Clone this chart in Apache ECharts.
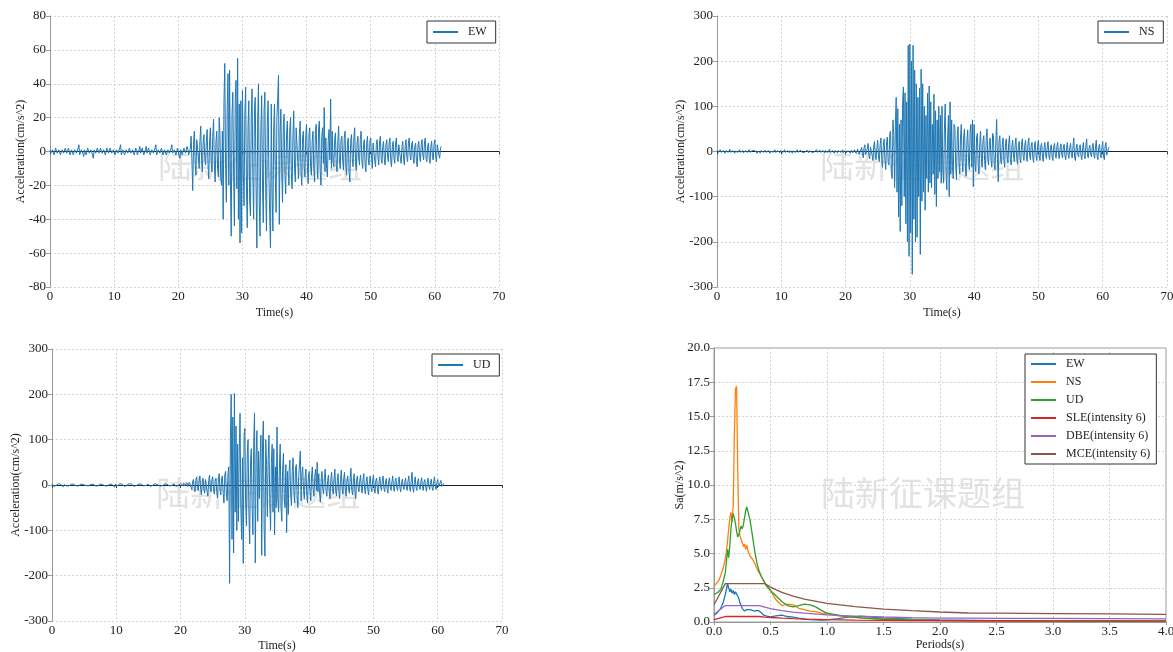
<!DOCTYPE html>
<html>
<head>
<meta charset="utf-8">
<script src="https://cdn.jsdelivr.net/npm/echarts@6/dist/echarts.min.js"></script>
<style>html,body{margin:0;padding:0;background:#fff;}#c{width:1173px;height:652px;}</style>
</head>
<body>
<div id="c"></div>
<script>
// ---- time histories (cm/s^2), sampled every 0.125 s from t = 0 to 61 s ----
const dt = 0.125;
const ewAcc = [
 1,-1,-2,1,2,-2,-1,2,3,-1,-2,1,1,-2,-3,1,2,-1,-1,2,1,-1,-2,2,3,-2,-1,1,2,-2,-3,1,1,-1,-2,2,4,-2,-1,1,
 2,-1,-3,1,1,-2,-2,2,3,-1,-1,1,2,-2,-4,1,1,-1,-2,2,3,-1,-1,2,2,-1,-2,1,1,-2,-3,2,2,-1,-1,2,3,-1,-2,1,
 1,-2,-3,1,2,-1,-2,2,4,-2,-1,1,2,-2,-3,1,1,-1,-2,2,3,-1,-2,1,1,-2,-1,2,2,-2,-3,1,3,-1,-1,2,2,-2,-2,1,
 3,-1,-1,2,2,-2,-3,1,1,-1,-2,2,4,-2,-1,1,2,-1,-2,2,3,-2,-3,1,1,-2,-2,1,2,-1,-1,2,4,-1,-2,1,1,-2,-3,2,
 2,-2,-4,1,1,-2,-3,2,2,-1,-2,3,1,-2,-3,2,9,-5,-23,4,12,-6,-14,7,8,-3,-10,6,15,-4,-12,5,10,-3,-8,6,13,-7,-16,5,
 14,-6,-12,9,19,-8,-18,6,12,-10,-15,20,10,-16,-20,12,-40,30,52,-10,-30,25,46,-20,48,-15,-50,22,35,-12,-44,30,42,-22,55,-40,28,-54,30,-48,
 36,-10,-32,22,38,-20,-45,15,30,-28,-38,20,37,-15,-40,25,32,-20,-57,18,40,-30,-50,12,33,-18,-42,24,35,-22,-47,16,30,-12,-38,-57,28,-25,-47,14,
 28,-15,-36,20,32,45,-43,12,25,-10,-30,16,22,-14,-25,10,18,-8,-20,12,20,-12,-22,9,24,-10,-18,14,15,-6,-16,10,18,-12,-20,8,12,-9,-15,10,
 16,-8,-19,10,14,-9,-14,6,12,-10,-18,12,16,-6,-16,14,18,-12,-20,9,14,-7,26,-12,8,-10,-15,6,13,-5,31,-10,12,-6,-9,7,11,-8,-12,6,
 15,-6,-10,7,9,-5,-11,8,12,-9,-14,5,8,-12,-18,6,10,-4,-9,8,14,-6,-11,5,9,-4,-8,7,12,-6,-10,4,7,-8,-12,5,9,-5,-8,6,
 8,-4,-10,5,6,-5,-9,4,7,-3,-8,5,9,-4,-7,3,6,-5,-8,4,7,-3,-6,5,8,-6,-9,3,6,-4,-7,5,8,-3,-6,4,5,-4,-7,3,
 6,-4,-8,3,7,-3,-6,5,8,-2,-5,4,6,-4,-7,3,5,-6,-9,4,6,-3,-6,4,7,-2,-5,5,8,-4,-6,3,5,-4,-7,3,6,-3,-5,4,
 7,-3,-6,4,5,-2,-4,2,3
];
const nsAcc = [
 3,-1,-2,2,4,-2,-3,1,2,-2,-4,2,3,-1,-2,2,5,-2,-3,1,2,-2,-4,1,3,-1,-2,2,4,-2,-3,1,2,-3,-5,2,3,-1,-2,2,
 4,-2,-3,1,2,-1,-2,2,3,-2,-4,1,2,-2,-3,2,4,-1,-2,1,3,-2,-3,2,2,-2,-4,1,3,-1,-2,2,4,-2,-3,1,2,-1,-3,2,
 3,-1,-2,2,4,-2,-3,1,2,-1,-3,2,3,-2,-4,1,2,-1,-2,2,4,-2,-3,1,3,-1,-2,1,2,-2,-4,2,3,-1,-3,2,4,-2,-2,1,
 2,-1,-3,2,4,-2,-2,1,3,-2,-4,1,2,-1,-3,2,3,-2,-2,1,5,-2,-3,1,2,-2,-4,2,3,-1,-3,2,4,-2,-2,2,3,-3,-5,2,
 4,-3,-6,2,5,-2,-4,3,5,-3,-5,4,6,-4,-7,5,8,-6,-10,4,9,-5,-14,8,15,-7,-11,6,18,-9,-16,10,14,-8,-20,12,22,-10,-18,9,
 25,-12,-22,15,30,-18,-35,14,28,-20,-40,22,32,-25,-30,40,45,-50,-60,70,35,-80,60,120,-90,95,-145,60,-177,70,-120,110,143,-100,130,-160,110,-200,235,-232,
 238,-180,200,-272,235,-150,180,-200,150,-190,120,-100,140,-228,182,-110,150,-90,100,-130,80,-60,129,-90,145,-70,110,-80,60,-50,127,-95,90,-122,70,-60,100,-45,80,-70,
 100,-40,-70,50,105,-45,-85,30,80,-100,110,-50,70,-35,-60,60,55,-30,-63,35,55,-25,-50,30,60,-20,-45,35,50,-30,-55,25,48,-20,-40,45,60,-35,70,-78,
 60,-25,-45,30,40,-30,-50,20,45,-15,-35,25,35,-20,-40,28,50,-18,-30,22,30,-20,-35,40,35,-30,-40,20,71,-15,-67,25,35,-18,-28,15,30,-20,-35,18,
 28,-12,-25,18,35,-15,-30,12,25,-10,-22,15,30,-14,-28,10,22,-12,-25,16,28,-10,-20,14,25,-12,-22,18,30,-8,-18,12,20,-14,-24,10,22,-10,-20,12,
 25,-10,-20,12,18,-12,-22,8,20,-8,-16,12,22,-10,-18,9,15,-12,-20,10,18,-8,-15,11,20,-9,-16,8,17,-7,-14,10,16,-10,-18,7,20,-8,-15,9,
 18,-7,-14,10,30,-12,-20,8,16,-6,-12,9,15,-10,-18,8,20,-9,-16,12,28,-8,-14,7,14,-6,-12,9,18,-8,-15,10,25,-10,-18,8,16,-7,-14,9,
 22,-10,-18,12,20,-8,-12,6,10
];
const udAcc = [
 2,-1,-3,1,1,-1,-2,2,3,-1,-1,1,2,-2,-4,1,3,-1,-2,1,1,-2,-3,1,2,-1,-1,2,5,-1,-2,1,1,-2,-3,1,2,-1,-2,1,
 3,-1,-1,1,2,-2,-3,1,1,-1,-2,2,3,-1,-2,1,1,-2,-4,2,2,-1,-1,1,3,-1,-2,2,1,-2,-3,1,2,-1,-2,1,1,-2,-5,2,
 2,-1,-2,1,3,-1,-1,2,2,-2,-3,1,1,-1,-2,1,3,-1,-1,2,2,-2,-3,1,1,-1,-2,1,2,-1,-1,2,3,-1,-2,1,1,-1,-2,1,
 2,-1,-3,1,1,-1,-2,2,3,-1,-1,1,2,-1,-2,1,1,-2,-3,1,2,-1,-1,2,3,-1,-2,1,1,-1,-2,2,2,-2,-3,1,1,-1,-2,1,
 3,-1,-2,2,4,-2,-3,2,5,-3,-4,6,8,-5,-10,7,12,-8,-15,10,18,-6,-12,9,20,-10,-22,8,15,-9,-18,12,12,-14,-25,10,22,-8,-15,11,
 18,-10,-20,8,15,-14,-28,12,25,-9,-22,14,20,-18,-40,22,30,-20,-35,25,40,-217,100,200,-120,150,-150,202,-60,130,-100,90,-80,70,158,-50,-120,60,-173,110,
 125,-40,-90,70,100,-60,-130,50,80,-45,-110,90,159,-172,60,120,-80,75,-30,60,110,-155,90,141,-100,-157,100,45,-70,55,110,-40,-100,50,90,-60,80,-110,40,-50,
 128,-30,-60,40,90,-50,-80,35,70,-25,-50,45,-105,30,-65,28,55,-20,-45,30,60,-18,-40,35,45,-25,-50,20,45,75,-35,25,40,-12,-30,18,35,-20,-40,15,
 30,-15,-35,20,40,-10,-25,18,35,-12,50,-15,25,-20,-38,12,30,-8,-20,16,35,-12,-25,10,22,-15,-30,14,28,-8,-20,12,35,-12,-24,10,25,-14,-30,12,
 33,-8,-20,14,28,-10,-25,9,20,-8,-18,12,37,-10,-22,8,25,-14,-30,10,20,-6,-15,9,22,-8,-18,12,25,-10,-20,7,18,-10,-22,8,20,-6,-15,9,
 22,-8,-18,10,15,-10,-20,6,18,-5,-12,9,20,-7,-15,6,14,-8,-18,9,16,-5,-12,7,20,-6,-14,8,15,-5,-12,6,18,-7,-15,5,13,-4,-10,6,
 15,-5,-12,8,20,-6,-14,9,28,-7,-16,6,18,-5,-12,7,14,-4,-10,6,16,-5,-12,7,12,-6,-14,5,15,-4,-10,6,13,-5,-12,7,18,-4,-10,5,
 12,-4,-8,5,10,-3,-6,3,4
];

// ---- response spectra (m/s^2) ----
const specT = [0,0.02,0.04,0.06,0.08,0.1,0.11,0.12,0.13,0.14,0.15,0.16,0.17,0.18,0.19,0.2,0.21,0.22,0.23,0.24,0.25,0.26,0.27,0.28,0.29,0.3,0.32,0.34,0.36,0.38,0.4,0.42,0.44,0.46,0.48,0.5,0.55,0.6,0.65,0.7,0.75,0.8,0.85,0.9,0.95,1.0,1.1,1.2,1.3,1.4,1.5,1.75,2.0,2.5,3.0,3.5,4.0];
const specEW = [0.5,0.6,0.8,1.0,1.4,2.0,2.4,2.8,2.5,2.2,2.4,2.1,2.3,2.0,2.2,2.1,1.9,1.7,1.4,1.2,1.0,0.9,0.8,0.85,0.9,0.95,0.9,0.85,0.8,0.85,0.8,0.65,0.5,0.45,0.4,0.38,0.45,0.5,0.4,0.35,0.28,0.22,0.18,0.15,0.14,0.15,0.25,0.38,0.42,0.35,0.28,0.2,0.15,0.1,0.07,0.06,0.05];
const specNS = [2.6,2.8,3.0,3.4,3.9,4.6,5.2,5.9,6.8,7.6,8.0,7.3,8.5,13.5,17.0,17.2,11.0,6.8,6.3,6.0,5.8,5.5,5.7,5.3,5.6,5.2,4.8,4.6,4.3,3.9,3.6,3.3,3.0,2.7,2.5,2.3,1.6,1.2,1.3,1.25,1.0,0.9,0.8,0.75,0.65,0.6,0.45,0.35,0.3,0.25,0.22,0.16,0.12,0.09,0.07,0.05,0.04];
const specUD = [2.0,2.1,2.2,2.4,2.9,3.6,4.4,5.3,4.7,5.6,6.8,7.6,7.9,8.0,7.2,6.6,6.2,6.4,6.7,7.0,6.8,7.1,7.6,8.1,8.4,8.3,7.4,6.3,5.2,4.3,3.7,3.3,3.0,2.7,2.5,2.3,1.9,1.5,1.2,1.1,1.2,1.3,1.25,1.1,0.85,0.65,0.5,0.38,0.3,0.25,0.2,0.15,0.11,0.08,0.06,0.05,0.04];
const designT = [0,0.1,0.4,0.45,0.5,0.6,0.7,0.8,1.0,1.25,1.5,1.75,2.0,2.25,2.5,3.0,3.5,4.0];
const sleSa = [0.18,0.4,0.4,0.36,0.327,0.278,0.242,0.214,0.175,0.143,0.122,0.106,0.094,0.092,0.090,0.086,0.082,0.078];
const dbeSa = [0.54,1.2,1.2,1.079,0.982,0.833,0.725,0.643,0.526,0.430,0.365,0.318,0.282,0.276,0.270,0.258,0.246,0.234];
const mceSa = [1.26,2.8,2.8,2.8,2.547,2.161,1.881,1.668,1.365,1.116,0.947,0.825,0.731,0.658,0.644,0.616,0.588,0.560];

const accTicks = { ew: [-80, 80, 20], ns: [-300, 300, 100], ud: [-300, 300, 100] };
const watermark = '陆新征课题组';

const toPairs = (arr) => arr.map((v, i) => [i * dt, v]);
const zip = (xs, ys) => xs.map((x, i) => [x, ys[i]]);

const SERIF = '"Liberation Serif", "DejaVu Serif", serif';
const C = { blue: '#1f77b4', orange: '#ff7f0e', green: '#2ca02c', red: '#d62728', purple: '#9467bd', brown: '#8c564b' };

const gridBase = { outerBoundsMode: 'none', containLabel: false };
const grids = [
  Object.assign({ left: 50, top: 16, width: 449, height: 271 }, gridBase),
  Object.assign({ left: 717, top: 16, width: 450, height: 271 }, gridBase),
  Object.assign({ left: 52, top: 349, width: 450, height: 272 }, gridBase),
  Object.assign({ left: 714, top: 348, width: 452, height: 274, show: true, borderColor: '#999', borderWidth: 1 }, gridBase)
];

const splitLine = { show: true, lineStyle: { color: '#d4d4d4', type: [2, 2], width: 1 } };
const lbl = { fontFamily: SERIF, fontSize: 13, color: '#222' };
const nameStyle = { fontFamily: SERIF, fontSize: 12, color: '#222' };

function timeX(gi, gap) {
  return {
    type: 'value', gridIndex: gi, min: 0, max: 70, interval: 10,
    name: 'Time(s)', nameLocation: 'middle', nameGap: gap, nameMoveOverlap: false, nameTextStyle: nameStyle,
    axisLine: { show: true, onZero: true, lineStyle: { color: '#222', width: 1 } },
    axisTick: { show: true, length: 3, lineStyle: { color: '#444' } },
    axisLabel: Object.assign({ margin: 3 }, lbl),
    splitLine: splitLine
  };
}
function accY(gi, key, gap) {
  const t = accTicks[key];
  return {
    type: 'value', gridIndex: gi, min: t[0], max: t[1], interval: t[2],
    name: 'Acceleration(cm/s^2)', nameLocation: 'middle', nameGap: gap, nameMoveOverlap: false, nameTextStyle: nameStyle,
    axisLine: { show: true, onZero: false, lineStyle: { color: '#999' } },
    axisTick: { show: true, length: 4, lineStyle: { color: '#999' } },
    axisLabel: Object.assign({ margin: 4 }, lbl),
    splitLine: splitLine
  };
}

function legendBox(left, top, names, extra) {
  return Object.assign({
    left: left, top: top, orient: 'vertical', data: names,
    backgroundColor: '#fff', borderColor: '#333', borderWidth: 1, borderRadius: 0,
    padding: [5, 6, 5, 6], itemGap: 6, itemWidth: 25, itemHeight: 2, icon: 'rect',
    textStyle: { fontFamily: SERIF, fontSize: 12, color: '#222', padding: [0, 0, 0, 5] }
  }, extra || {});
}

function wm(x, y) {
  return { type: 'text', x: x, y: y, z: -10, silent: true,
    style: { text: watermark, align: 'center', verticalAlign: 'middle',
      font: '34px "Noto Sans CJK SC"', fill: '#e2e2e2' } };
}

const lineCommon = { type: 'line', showSymbol: false, symbol: 'none', animation: false };

const option = {
  animation: false,
  backgroundColor: '#fff',
  grid: grids,
  graphic: [wm(260, 165), wm(922, 165), wm(258, 493), wm(923, 493)],
  legend: [
    legendBox(427, 21, ['EW ']),
    legendBox(1098, 21, ['NS ']),
    legendBox(432, 354, ['UD ']),
    legendBox(1025, 354, ['EW', 'NS', 'UD', 'SLE(intensity 6)', 'DBE(intensity 6)', 'MCE(intensity 6)'], { padding: [4, 6, 4, 6] })
  ],
  xAxis: [
    timeX(0, 20), timeX(1, 20), timeX(2, 19),
    {
      type: 'value', gridIndex: 3, min: 0, max: 4, interval: 0.5,
      name: 'Periods(s)', nameLocation: 'middle', nameGap: 17, nameMoveOverlap: false, nameTextStyle: nameStyle,
      axisLine: { show: true, lineStyle: { color: '#999' } },
      axisTick: { show: true, length: 3, lineStyle: { color: '#999' } },
      axisLabel: Object.assign({ margin: 3, formatter: (v) => v.toFixed(1) }, lbl),
      splitLine: splitLine
    }
  ],
  yAxis: [
    accY(0, 'ew', 23), accY(1, 'ns', 30), accY(2, 'ud', 30),
    {
      type: 'value', gridIndex: 3, min: 0, max: 20, interval: 2.5,
      name: 'Sa(m/s^2)', nameLocation: 'middle', nameGap: 28, nameMoveOverlap: false, nameTextStyle: nameStyle,
      axisLine: { show: true, lineStyle: { color: '#999' } },
      axisTick: { show: true, length: 4, lineStyle: { color: '#999' } },
      axisLabel: Object.assign({ margin: 4, formatter: (v) => v.toFixed(1) }, lbl),
      splitLine: splitLine
    }
  ],
  series: [
    Object.assign({ name: 'EW ', xAxisIndex: 0, yAxisIndex: 0, data: toPairs(ewAcc), lineStyle: { width: 1, color: C.blue }, itemStyle: { color: C.blue } }, lineCommon),
    Object.assign({ name: 'NS ', xAxisIndex: 1, yAxisIndex: 1, data: toPairs(nsAcc), lineStyle: { width: 1, color: C.blue }, itemStyle: { color: C.blue } }, lineCommon),
    Object.assign({ name: 'UD ', xAxisIndex: 2, yAxisIndex: 2, data: toPairs(udAcc), lineStyle: { width: 1, color: C.blue }, itemStyle: { color: C.blue } }, lineCommon),
    Object.assign({ name: 'EW', xAxisIndex: 3, yAxisIndex: 3, data: zip(specT, specEW), lineStyle: { width: 1.3, color: C.blue }, itemStyle: { color: C.blue } }, lineCommon),
    Object.assign({ name: 'NS', xAxisIndex: 3, yAxisIndex: 3, data: zip(specT, specNS), lineStyle: { width: 1.3, color: C.orange }, itemStyle: { color: C.orange } }, lineCommon),
    Object.assign({ name: 'UD', xAxisIndex: 3, yAxisIndex: 3, data: zip(specT, specUD), lineStyle: { width: 1.3, color: C.green }, itemStyle: { color: C.green } }, lineCommon),
    Object.assign({ name: 'SLE(intensity 6)', xAxisIndex: 3, yAxisIndex: 3, data: zip(designT, sleSa), lineStyle: { width: 1.3, color: C.red }, itemStyle: { color: C.red } }, lineCommon),
    Object.assign({ name: 'DBE(intensity 6)', xAxisIndex: 3, yAxisIndex: 3, data: zip(designT, dbeSa), lineStyle: { width: 1.3, color: C.purple }, itemStyle: { color: C.purple } }, lineCommon),
    Object.assign({ name: 'MCE(intensity 6)', xAxisIndex: 3, yAxisIndex: 3, data: zip(designT, mceSa), lineStyle: { width: 1.3, color: C.brown }, itemStyle: { color: C.brown } }, lineCommon)
  ]
};

const chart = echarts.init(document.getElementById('c'), null, { renderer: 'canvas' });
chart.setOption(option);
</script>
</body>
</html>
